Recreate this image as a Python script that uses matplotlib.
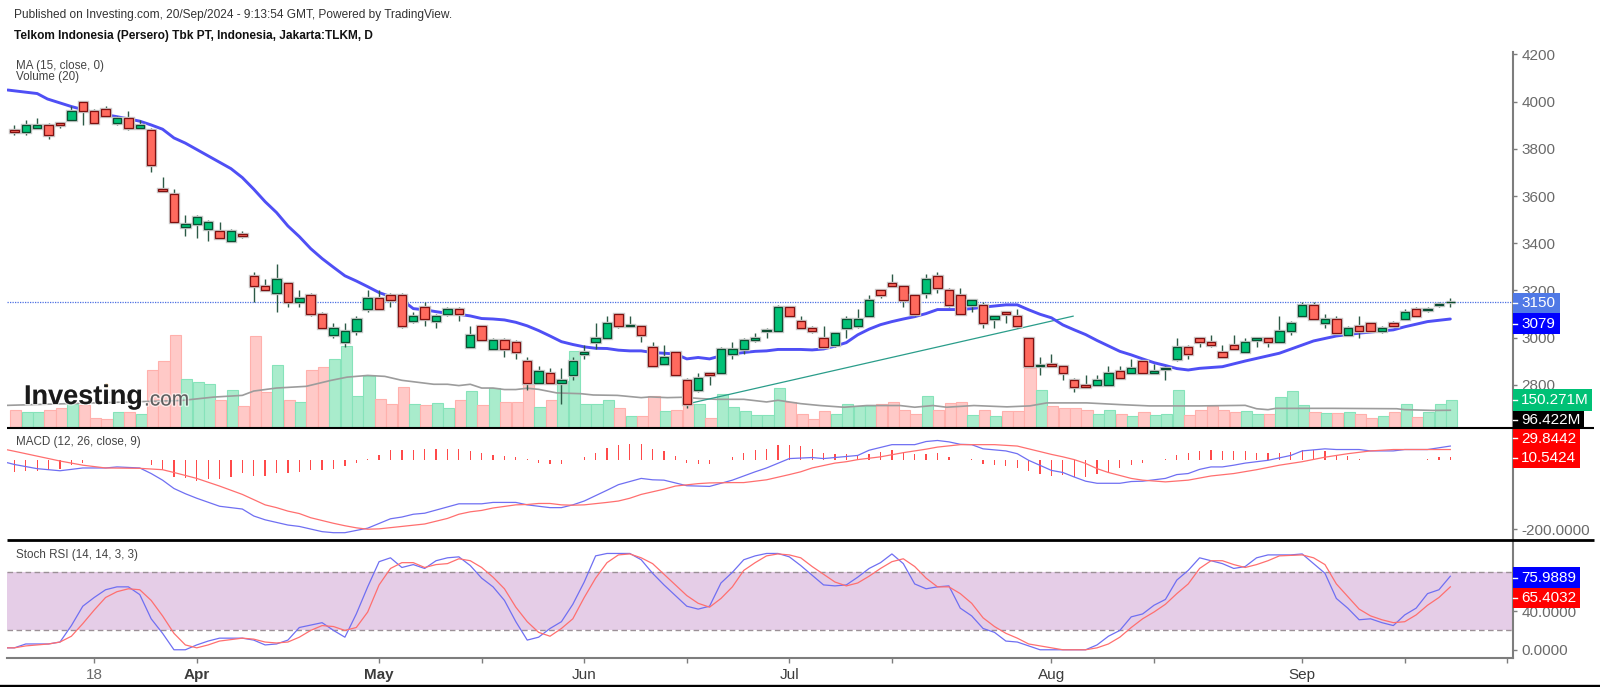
import matplotlib
matplotlib.use("Agg")
import matplotlib.pyplot as plt
import matplotlib.patheffects as pe
from matplotlib.patches import Rectangle

plt.rcParams['font.family'] = ['Liberation Sans', 'DejaVu Sans']

# ---- price data, one entry per session ----
opens = [3880,3870,3890,3900,3910,3920,4000,3960,3970,3910,3930,3890,3880,3630,3610,3470,3480,3460,3450,3410,3440,
         3260,3220,3190,3230,3150,3180,3100,3010,2980,3030,3120,3170,3180,3180,3070,3130,3070,3100,3120,2960,3050,
         2950,2990,2980,2900,2810,2850,2810,2840,2930,2980,3000,3100,3048,3050,2960,2890,2940,2820,2780,2850,2850,
         2930,2950,2990,3030,3030,3130,3070,3040,3000,2970,3040,3050,3090,3200,3230,3220,3180,3190,3260,3200,3180,
         3140,3140,3080,3110,3090,3000,2881,2890,2880,2820,2800,2800,2800,2860,2850,2900,2850,2868,2910,2960,3000,
         2980,2940,2970,2940,2990,3000,2980,3030,3090,3140,3060,3080,3010,3050,3060,3030,3060,3080,3120,3119,3139,3150]
highs = [3900,3920,3930,3910,3910,3980,4000,3970,3980,3940,3960,3920,3890,3680,3630,3520,3520,3500,3490,3460,3450,
         3280,3250,3310,3230,3200,3190,3110,3060,3060,3090,3200,3200,3190,3190,3110,3150,3100,3130,3130,3050,3050,
         3000,3000,2990,2920,2880,2870,2870,2920,2970,3060,3090,3100,3090,3050,2980,2970,2940,2830,2850,2850,2960,
         2980,3000,3020,3040,3140,3130,3090,3050,3050,3020,3090,3120,3180,3200,3270,3220,3180,3270,3280,3210,3210,
         3160,3150,3090,3110,3120,3000,2920,2930,2880,2830,2840,2840,2880,2880,2910,2900,2890,2880,3000,2970,3000,
         3010,2970,3010,3000,3000,3000,3090,3070,3150,3150,3100,3090,3050,3090,3060,3050,3070,3120,3130,3130,3150,3170]
lows = [3860,3860,3890,3840,3890,3920,3900,3910,3940,3900,3880,3890,3700,3620,3490,3430,3420,3410,3420,3410,3420,
        3150,3200,3110,3130,3130,3090,3040,3000,2960,3010,3110,3120,3130,3040,3060,3050,3040,3090,3070,2960,2990,
        2950,2920,2910,2780,2810,2810,2720,2820,2910,2950,3000,3040,3050,2980,2880,2890,2840,2700,2770,2800,2850,
        2910,2930,2980,3000,3030,3090,3040,3020,2960,2960,3000,3040,3090,3170,3220,3130,3090,3170,3190,3130,3100,
        3110,3040,3040,3060,3040,2880,2840,2880,2820,2770,2790,2800,2800,2830,2850,2850,2850,2820,2900,2910,2960,
        2960,2920,2950,2940,2960,2960,2980,3010,3090,3080,3040,3020,3010,3000,3030,3020,3050,3080,3090,3110,3130,3130]
closes = [3870,3900,3900,3860,3900,3960,3960,3910,3940,3930,3890,3900,3730,3620,3490,3480,3510,3490,3420,3450,3430,
          3220,3200,3250,3150,3170,3100,3040,3040,3030,3080,3170,3120,3160,3050,3090,3080,3090,3120,3100,3010,2990,
          2990,2950,2940,2810,2860,2810,2820,2900,2940,3000,3060,3050,3052,3010,2880,2920,2840,2720,2830,2840,2950,
          2950,2990,3000,3034,3130,3090,3040,3030,2960,3020,3080,3080,3160,3180,3220,3160,3100,3250,3210,3140,3100,
          3160,3060,3090,3100,3050,2880,2885,2880,2850,2790,2790,2820,2850,2830,2870,2850,2860,2872,2960,2930,2980,
          2970,2920,2950,2980,3000,2980,3030,3060,3140,3080,3080,3020,3040,3030,3030,3040,3050,3110,3090,3122,3142,3153]
volumes_m = [99,87,87,99,108,131,122,56,51,85,87,78,311,356,494,262,248,233,149,205,117,488,191,338,149,141,311,326,
             368,439,170,279,157,127,219,128,122,137,107,149,200,122,213,142,142,245,115,149,250,409,128,128,149,107,
             66,66,170,94,99,128,128,57,184,115,94,73,73,213,138,78,52,94,75,130,121,121,128,138,99,78,170,99,137,142,
             73,99,64,94,94,319,206,121,107,107,99,78,99,78,64,87,73,78,206,73,99,117,95,86,93,74,74,164,200,122,86,
             79,79,86,74,53,65,86,129,58,86,129,148]

ma_x = [-0.6,2,2.9,5,7,9,11,12,13,14,15,16,17,18,19,20,21,22,23,24,25,26,27,28,29,30,31,32,33,34,35,36,37,38,39,40,41,
        42,43,44,45,46,47,48,49,50,51,52,53,54,55,56,57,58,59,60,61,62,63,64,65,66,67,68,69,70,71,72,73,74,75,76,77,78,
        79,80,81,82,83,84,85,86,87,88,89,90,91,92,93,94,95,96,97,98,99,100,101,102,103,104,106,108,111,114,116,118,121,
        122,124,126]
ma_vals = [4049,4034,4011,3979,3953,3936,3917,3901,3883,3846,3824,3797,3770,3743,3716,3678,3629,3576,3530,3473,3428,
           3377,3335,3298,3262,3240,3216,3191,3174,3160,3123,3118,3110,3103,3099,3092,3081,3079,3075,3065,3050,3030,
           3007,2983,2971,2961,2955,2954,2947,2944,2944,2937,2934,2931,2910,2916,2910,2923,2931,2937,2942,2944,2950,
           2950,2950,2948,2952,2964,2979,3012,3036,3055,3068,3079,3089,3102,3119,3119,3119,3123,3129,3134,3139,3139,
           3118,3099,3084,3054,3033,3013,2988,2965,2942,2927,2910,2894,2882,2869,2863,2870,2877,2901,2934,2986,3007,
           3019,3033,3046,3068,3079]
vol_avg_x = [-0.6,14.7,17.5,20,21,23,25.6,27.8,29.2,31,32.5,34,36.8,38,39,40,41,42,43,44,45,46,47.6,49.7,50.8,52.9,55,
             55.8,57.3,58.7,60.2,61.6,64,66,67,69,70.7,72.8,74.8,77.7,79,80.6,81.8,84.2,87.1,89.1,90.6,94.1,97,99.6,
             104,108,109,110,110.7,115.7,121.3,122,124.5,126]
vol_avg = [122,148,166,175,198,214,223,255,272,281,276,255,234,234,227,234,214,214,206,206,213,207,188,184,177,175,163,
           167,163,165,158,154,154,140,149,131,121,112,121,121,112,121,112,121,114,119,135,135,126,119,119,122,104,99,
           106,106,104,99,95,96]
trend_x = [59.3, 92.9]
trend_y = [2722, 3091]
last_price = 3150

# ---- MACD ----
macd_x = [-0.6,0,2,4,6,8,9,11,12,13,14,15,16,18,20,21,22,24,25,27,28,29,31,33,34,35,36,37,39,41,42,44,45,47,48,49,50,
          52,53,55,56,57,59,61,63,65,66,68,70,71,74,75,77,79,80,81,82,83,84,85,87,88,89,91,92,93,94,95,97,98,99,101,102,
          103,104,105,106,107,108,110,111,112,113,115,116,118,119,121,122,124,126]
macd_vals = [-9,-14,-26,-32,-24,-24,-21,-24,-40,-59,-83,-98,-111,-134,-142,-162,-173,-188,-192,-207,-210,-210,-197,
             -170,-165,-157,-154,-145,-127,-127,-123,-123,-130,-138,-138,-130,-119,-88,-72,-54,-58,-59,-75,-77,-59,-35,
             -24,3,6,3,12,27,43,43,52,55,51,44,43,31,25,17,-2,-31,-37,-50,-62,-68,-68,-63,-62,-54,-43,-40,-28,-21,-21,
             -16,-10,-2,5,12,25,31,29,29,25,25,29,29,39]
signal_x = [-0.6,0,2,4,6,8,11,13,14,16,18,20,22,23,24,25,26,28,29,30,31,32,34,36,38,39,40,41,42,44,45,46,47,48,49,50,52,
            53,54,55,57,58,60,61,63,64,66,68,69,70,72,73,74,76,78,80,81,83,84,86,88,89,91,92,93,94,95,96,98,99,101,103,
            105,107,109,111,113,115,117,119,121,124,126]
signal_vals = [28,24,10,-4,-16,-24,-25,-29,-37,-54,-76,-100,-130,-138,-148,-155,-167,-183,-190,-196,-200,-199,-192,
               -185,-169,-157,-150,-146,-139,-130,-129,-126,-126,-130,-131,-130,-123,-119,-111,-100,-85,-76,-69,-67,
               -66,-66,-58,-43,-35,-24,-10,-6,0,8,20,30,36,43,43,43,39,31,15,8,0,-11,-26,-37,-54,-59,-64,-59,-47,-40,
               -29,-16,-6,7,17,25,29,29,29]
hist_vals = [-37,-33,-33,-30,-26,-16,-10,-2,0,0,0,0,-16,-30,-50,-54,-61,-56,-56,-50,-38,-47,-47,-38,-38,-35,-30,-30,-26,
             -19,-11,3,14,27,27,27,31,31,31,31,24,19,14,10,7,2,-10,-12,-12,0,8,19,33,41,46,46,31,24,10,-9,-12,-12,0,7,
             19,27,31,41,41,38,31,19,16,16,10,16,22,27,22,17,17,19,8,0,2,-13,-16,-19,-24,-33,-42,-47,-45,-50,-50,-42,
             -37,-24,-16,-10,0,2,14,19,24,27,24,24,24,19,19,19,22,27,29,24,14,10,2,0,-2,-2,0,0,2,8,8]

# ---- Stoch RSI ----
k_x = [-0.6,0,1,3,4,5,6,7,8,9,10,11,12,13,14,15,16,17,18,20,21,22,23,24,25,27,28,29,30,31,32,33,34,35,36,37,38,39,40,41,
       42,43,44,45,46,47,48,49,50,51,52,54,55,56,57,58,59,60,61,62,63,64,65,66,67,68,69,70,71,72,73,74,75,76,77,78,79,
       80,81,82,83,84,85,86,87,88,89,90,92,94,95,96,97,98,99,100,101,102,103,104,106,107,108,109,110,112,113,115,116,
       117,118,119,120,121,122,123,124,125,126]
k_vals = [2,2,6,6,8,25,45,54,62,65,65,57,32,17,0,0,5,9,12,12,10,5,6,10,23,28,20,13,37,65,91,95,85,88,84,92,95,96,87,74,
          65,51,29,10,13,22,29,47,70,97,99.5,99.5,93,79,67,56,45,42,45,69,80,93,97,99.5,99.5,96,87,77,67,66,67,75,84,90,
          99,89,68,63,65,66,43,35,22,18,9,8,4,0,0,0,5,14,20,34,37,46,52,72,82,95,89,84,86,95,98,98,99,79,53,43,31,32,28,
          25,36,43,58,62,76]
d_x = [-0.6,0,1,2,3,4,5,6,7,8,9,10,11,12,13,14,15,16,17,18,20,21,22,23,24,25,26,27,28,29,30,31,32,33,34,35,36,37,38,39,
       40,41,42,43,44,45,46,47,48,49,50,51,52,53,54,55,56,57,58,59,60,61,62,63,64,65,66,67,68,69,70,71,72,73,74,75,76,
       77,78,79,80,81,82,83,84,85,86,87,88,89,90,92,94,95,96,97,98,99,100,101,102,103,104,105,106,107,108,109,110,111,
       113,114,115,116,117,118,119,120,121,122,123,124,125,126]
d_vals = [2,2,4,5,6,8,14,27,41,54,60,63,62,51,35,17,5,2,5,9,12,11,8,7,8,13,20,25,24,20,23,39,67,84,90,90,85,88,89,94,
          92,85,75,63,44,29,18,14,22,32,54,74,90,98,99,95,89,78,67,56,48,44,53,65,82,90,97,99,98,95,86,78,70,66,69,76,
          84,91,94,86,74,65,65,58,48,33,24,17,12,6,4,0,0,2,6,13,23,32,39,47,58,68,84,92,92,88,85,88,92,97,98,95,88,68,
          55,42,35,31,28,29,36,46,54,65]

# ---- axis labels ----
price_ticks = [4200,4000,3800,3600,3400,3200,3000,2800]
date_ticks = [7,16,32,41,50,59,68,77,91,100,113,122,131]
date_labels = ['18','Apr','May','','Jun','','Jul','','Aug','','Sep','','']

W, H = 1600, 687
GREEN, RED = '#00C176', '#FF6A5E'
VGREEN, VRED = '#A9ECCC', '#FFC9C7'
XL = (-0.65, 131.5)
AXC = '#7d7d7d'
TC = '#6a6a6a'
TS = 11.0

fig = plt.figure(figsize=(W/100, H/100), dpi=100, facecolor='white')

def pane(x0, y0, x1, y1):
    ax = fig.add_axes([x0/W, 1-y1/H, (x1-x0)/W, (y1-y0)/H])
    ax.set_facecolor('none')
    ax.set_xlim(*XL)
    for s in ax.spines.values():
        s.set_visible(False)
    ax.spines['right'].set_visible(True)
    ax.spines['right'].set_color(AXC)
    ax.spines['right'].set_linewidth(1.5)
    ax.yaxis.tick_right()
    ax.tick_params(axis='y', length=3.2, width=1, color=AXC, labelcolor=TC, labelsize=TS, pad=3)
    ax.set_xticks([])
    return ax

# main price pane
ax = pane(7, 52, 1513, 428.3)
ax.set_ylim(2616, 4210)
ax.set_yticks(price_ticks)

up = [c >= o for o, c in zip(opens, closes)]
n = len(opens)
idx = list(range(n))

vax = fig.add_axes(ax.get_position(), sharex=ax)
vax.set_facecolor('none')
vax.axis('off')
vax.set_ylim(0, 2000)
vax.bar([i + 0.12 for i in idx], volumes_m, width=0.98,
        color=[VGREEN if u else VRED for u in up],
        edgecolor=['#86E3BA' if u else '#FFB0AC' for u in up], linewidth=0.8, zorder=1)
vax.plot(vol_avg_x, vol_avg, color='#9c9c9c', lw=1.2, zorder=2)

ax.set_zorder(vax.get_zorder() + 1)
ax.axhline(last_price, color='#4a6fe3', lw=0.9, ls=(0, (1, 1)), zorder=2)
ax.plot(trend_x, trend_y, color='#2a9d8a', lw=0.9, zorder=2)
ax.plot(ma_x, ma_vals, color='#4f4ff5', lw=2.1, zorder=3, solid_capstyle='round')
ax.vlines(idx, lows, highs, color='#2c5a46', lw=1.0, zorder=4)
bars = ax.bar(idx, [abs(c - o) for o, c in zip(opens, closes)],
              bottom=[min(o, c) for o, c in zip(opens, closes)], width=0.74,
              color=[GREEN if u else RED for u in up],
              edgecolor=['#0B4D30' if u else '#7E1010' for u in up], linewidth=0.9, zorder=5)
for b in bars:
    b.set_path_effects([pe.withStroke(linewidth=2.4, foreground='#c9c9c9')])

# MACD pane
ax2 = pane(7, 428.3, 1513, 540)
ax2.set_ylim(-231, 90)
ax2.set_yticks([-200])
ax2.set_yticklabels(['-200.0000'])
ax2.bar(idx, hist_vals, width=0.11, color='#FF4A4A', linewidth=0, zorder=2)
ax2.plot(macd_x, macd_vals, color='#6F6FF2', lw=0.9, zorder=3)
ax2.plot(signal_x, signal_vals, color='#FF6F6F', lw=0.9, zorder=3)

# Stoch pane
ax3 = pane(7, 540, 1513, 658)
ax3.set_ylim(-8.5, 113.4)
ax3.axhspan(20, 80, color='#E5CDE7', lw=0, zorder=1)
ax3.axhline(80, color='#9b9096', lw=1, ls=(0, (4, 2.5)), zorder=2)
ax3.axhline(20, color='#9b9096', lw=1, ls=(0, (4, 2.5)), zorder=2)
ax3.plot(k_x, k_vals, color='#6F6FF2', lw=0.9, zorder=3)
ax3.plot(d_x, d_vals, color='#FF6F6F', lw=0.9, zorder=3)
ax3.set_yticks([0, 40])
ax3.set_yticklabels(['0.0000', '40.0000'])
ax3.spines['bottom'].set_visible(True)
ax3.spines['bottom'].set_color(AXC)
ax3.spines['bottom'].set_linewidth(1.5)
ax3.set_xticks(date_ticks)
ax3.set_xticklabels(date_labels)
ax3.tick_params(axis='x', length=3.6, width=1, color=AXC, labelsize=TS, labelcolor='#3c3c3c', pad=3.5)
for lab in ax3.get_xticklabels():
    if lab.get_text() in ('Apr', 'May'):
        lab.set_fontweight('bold')
    if lab.get_text() == '18':
        lab.set_color(TC)

# overlay in pixel coordinates for boxes, separators and captions
ov = fig.add_axes([0, 0, 1, 1], zorder=50)
ov.set_xlim(0, W)
ov.set_ylim(H, 0)
ov.axis('off')
ov.patch.set_alpha(0)

for y, lw in [(428.3, 1.5), (540, 2.0), (685.5, 1.7)]:
    ov.plot([7 if y != 685.5 else 0, 1594 if y != 685.5 else W], [y, y], color='black', lw=lw,
            solid_capstyle='butt')

boxes = [(292.5, 313, 1560, '#5079E6', '3150', 'white'),
         (313, 334, 1560, '#0000FF', '3079', 'white'),
         (389, 411, 1592, '#00C176', '150.271M', 'white'),
         (411, 428, 1584, '#000000', '96.422M', 'white'),
         (429, 447.5, 1580, '#FF0000', '29.8442', 'white'),
         (447.5, 468, 1580, '#FF0000', '10.5424', 'white'),
         (567, 588, 1580, '#0000FF', '75.9889', 'white'),
         (588, 608, 1580, '#FF0000', '65.4032', 'white')]
for y0, y1, x1, col, txt, tc in boxes:
    ov.add_patch(Rectangle((1513, y0), x1 - 1513, y1 - y0, facecolor=col, edgecolor='none'))
    ov.plot([1513, 1517], [(y0 + y1) / 2] * 2, color='white', lw=1)
    ov.text(1521, (y0 + y1) / 2 + 0.5, txt, color=tc, fontsize=TS, va='center', ha='left')

ov.text(14, 15, 'Published on Investing.com, 20/Sep/2024 - 9:13:54 GMT, Powered by TradingView.',
        fontsize=8.54, color='#333333', va='center')
ov.text(14, 35.5, 'Telkom Indonesia (Persero) Tbk PT, Indonesia, Jakarta:TLKM, D',
        fontsize=8.53, fontweight='bold', color='#111111', va='center')
ov.text(16, 65.5, 'MA (15, close, 0)', fontsize=8.4, color='#444444', va='center')
ov.text(16, 77, 'Volume (20)', fontsize=8.4, color='#444444', va='center')
ov.text(16, 442.5, 'MACD (12, 26, close, 9)', fontsize=8.4, color='#444444', va='center')
ov.text(16, 555, 'Stoch RSI (14, 14, 3, 3)', fontsize=8.4, color='#444444', va='center')

halo = [pe.withStroke(linewidth=2, foreground=(1, 1, 1, 0.6))]
ov.text(24, 397, 'Investing', fontsize=19.5, fontweight='bold', color='#1a1a1a', va='center',
        path_effects=halo)
ov.text(144, 400, '.com', fontsize=15, color='#5f5f5f', va='center', path_effects=halo)
ov.plot([106], [385], marker='o', ms=3, color='#F4A11D', mew=0)

fig.savefig('out.png', dpi=100)
